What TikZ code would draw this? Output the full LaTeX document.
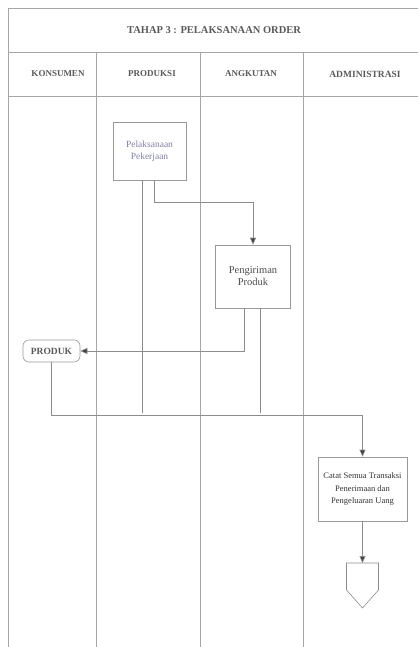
\documentclass[tikz,border=0pt]{standalone}
\usepackage{fontspec}
\setmainfont{Liberation Serif}
\usetikzlibrary{arrows.meta}
\begin{document}
\begin{tikzpicture}[x=1pt,y=-1pt,
  frame/.style={draw=black!35,line width=0.6pt},
  conn/.style={draw=black!45,line width=0.6pt},
  arr/.style={conn,-{Triangle[length=7pt,width=6pt,fill=black!75]}},
  hdr/.style={font=\bfseries\fontsize{9}{10}\selectfont,text=black!65},
  proc/.style={draw=black!40,line width=0.6pt,align=center,inner sep=1pt},
]
\useasboundingbox (0,0) rectangle (418,647);
% frame
\draw[frame] (8,8) -- (418,8);
\draw[frame] (8,52) -- (418,52);
\draw[frame] (8,96) -- (418,96);
\draw[frame] (8,8) -- (8,647);
\draw[frame] (96,52) -- (96,647);
\draw[frame] (200,52) -- (200,647);
\draw[frame] (303,52) -- (303,647);
% title and headers
\node[font=\bfseries\fontsize{10.5}{12}\selectfont,text=black!65] (title) at (214,30) {TAHAP 3 : PELAKSANAAN ORDER};
\node[hdr] (h1) at (58,74) {KONSUMEN};
\node[hdr] (h2) at (152,74) {PRODUKSI};
\node[hdr] (h3) at (251,74) {ANGKUTAN};
\node[hdr,font=\bfseries\fontsize{9.5}{10}\selectfont] (h4) at (365,74) {ADMINISTRASI};
% nodes
\node[proc,minimum width=73pt,minimum height=58pt,text=blue!30!black!50,font=\fontsize{9.5}{12}\selectfont] (pel) at (149.5,151) {Pelaksanaan\\Pekerjaan};
\node[proc,minimum width=75pt,minimum height=63pt,text=black!70,font=\fontsize{10.5}{12}\selectfont] (peng) at (253,276.5) {Pengiriman\\Produk};
\node[proc,rounded corners=6pt,minimum width=57pt,minimum height=22pt,text=black!65,font=\bfseries\fontsize{9.5}{11}\selectfont] (produk) at (51.5,351) {PRODUK};
\node[proc,minimum width=89pt,minimum height=64pt,text=black!80,font=\fontsize{8.5}{12.5}\selectfont] (catat) at (362.5,489) {Catat Semua Transaksi\\Penerimaan dan\\Pengeluaran Uang};
% off-page connector
\coordinate (off) at (362.5,563);
\draw[conn] (off) ++(-16,0) -- ++(32,0) -- ++(0,27) -- (362.5,608) -- (346.5,590) -- cycle;
% free ends
\coordinate (pelEnd) at (142,413);
\coordinate (pengEnd) at (260,413);
% connectors
\draw[conn] (pel.south -| pelEnd) -- (pelEnd);
\draw[arr] ([xshift=4.5pt]pel.south) -- ++(0,22) -| (peng.north);
\draw[arr] ([xshift=-9pt]peng.south) |- (produk.east);
\draw[conn] (peng.south -| pengEnd) -- (pengEnd);
\draw[arr] (produk.south) -- ++(0,53) -| (catat.north);
\draw[arr] (catat.south) -- (off);
\end{tikzpicture}
\end{document}
